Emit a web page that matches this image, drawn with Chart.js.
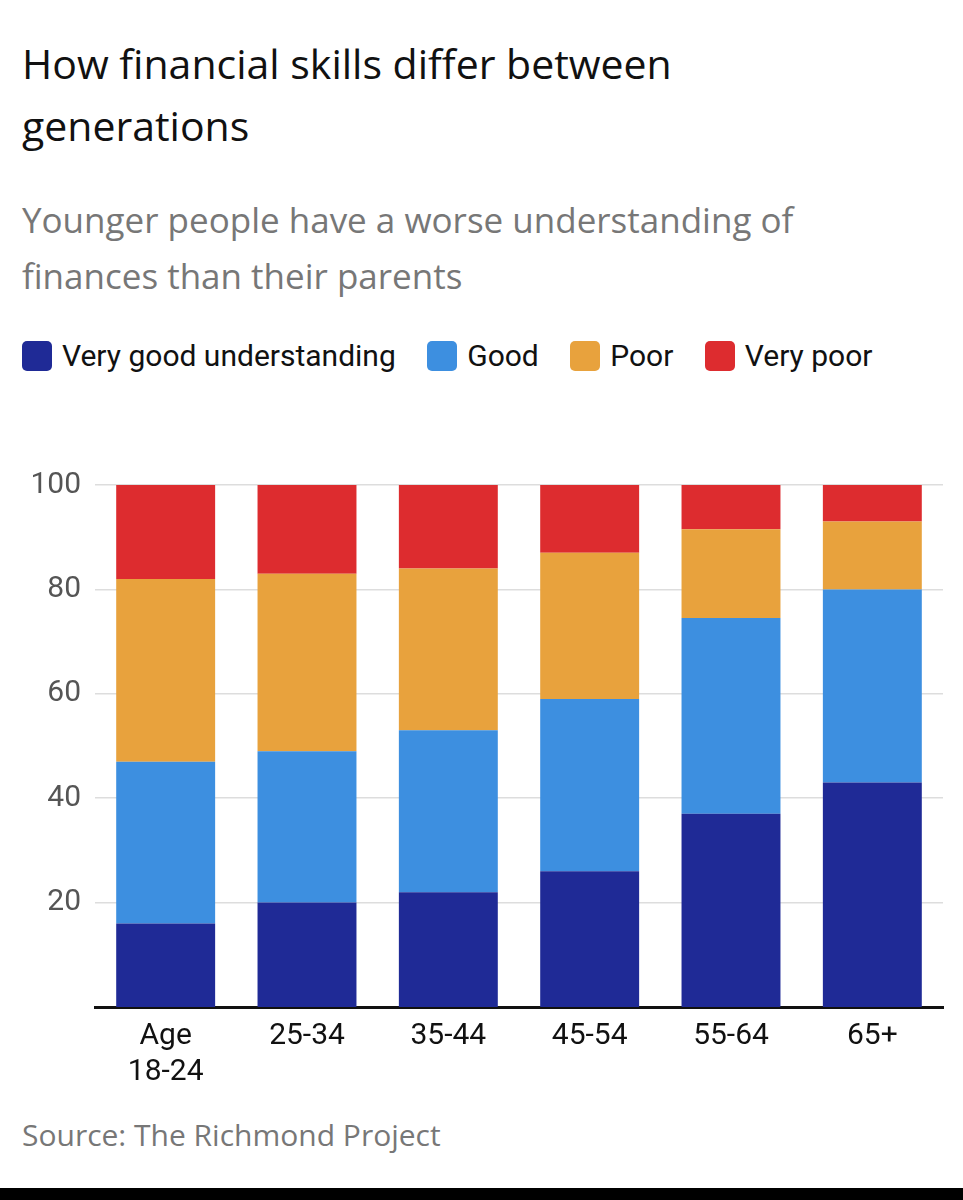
<!DOCTYPE html>
<html lang="en">
<head>
  <meta charset="UTF-8" />
  <title>How financial skills differ between generations</title>
  <script src="https://cdn.jsdelivr.net/npm/chart.js"></script>
  <style>
    body { margin: 0; background: #fff; width: 963px; height: 1200px; position: relative; overflow: hidden; font-family: "Open Sans", "Noto Sans", sans-serif; }
    h1 { position: absolute; left: 22px; top: 32px; margin: 0; font-weight: 400; font-size: 41px; line-height: 62px; color: #111; width: 800px; }
    h2 { position: absolute; left: 22px; top: 192px; margin: 0; font-weight: 400; font-size: 35px; line-height: 56px; color: #777; width: 900px; }
    #legend { position: absolute; left: 22px; top: 328px; width: 880px; font-family: Roboto, sans-serif; font-size: 30px; line-height: 56px; color: #111; }
    #legend span.sw { display: inline-block; width: 30px; height: 30px; border-radius: 5px; vertical-align: -5px; margin-right: 10px; }
    #legend span.it { margin-right: 24px; }
    #wrap { position: absolute; left: 0; top: 453px; width: 963px; height: 640px; }
    #src { position: absolute; left: 22px; top: 1114px; font-size: 30px; color: #777; }
    #bar { position: absolute; left: 0; top: 1188px; width: 963px; height: 12px; background: #000; }
  </style>
</head>
<body>
  <h1>How financial skills differ between generations</h1>
  <h2>Younger people have a worse understanding of finances than their parents</h2>
  <div id="legend"></div>
  <div id="wrap"><canvas id="grafico"></canvas></div>
  <div id="src">Source: The Richmond Project</div>
  <div id="bar"></div>

  <script>
    const categorias = [['Age', '18-24'], '25-34', '35-44', '45-54', '55-64', '65+'];
    const series = ['Very good understanding', 'Good', 'Poor', 'Very poor'];
    const colores = ['#1f2a96', '#3d8fe0', '#e8a23d', '#dd2c2f'];
    const muyBuena = [16, 20, 22, 26, 37, 43];
    const buena = [31, 29, 31, 33, 37.5, 37];
    const mala = [35, 34, 31, 28, 17, 13];
    const muyMala = [18, 17, 16, 13, 8.5, 7];
    const valores = [muyBuena, buena, mala, muyMala];
    const ticks = [20, 40, 60, 80, 100];

    document.getElementById('legend').innerHTML = series.map((s, i) =>
      '<span class="it"><span class="sw" style="background:' + colores[i] + '"></span>' + s + '</span>'
    ).join(' ');

    const ctx = document.getElementById('grafico').getContext('2d');
    new Chart(ctx, {
      type: 'bar',
      data: {
        labels: categorias,
        datasets: series.map((s, i) => ({
          label: s, data: valores[i], backgroundColor: colores[i],
          categoryPercentage: 0.7, barPercentage: 1
        }))
      },
      options: {
        responsive: true, maintainAspectRatio: false, animation: false,
        layout: { padding: { left: 0, right: 20, top: 20 } },
        plugins: { legend: { display: false }, tooltip: { enabled: false } },
        scales: {
          x: {
            stacked: true,
            grid: { display: false },
            border: { color: '#111', width: 3 },
            ticks: { color: '#111', font: { family: 'Roboto', size: 30 } }
          },
          y: {
            stacked: true, min: 0, max: 100,
            afterBuildTicks: ax => { ax.ticks = ticks.map(v => ({ value: v })); },
            afterFit: ax => { ax.width = 95; },
            grid: { color: '#ddd', lineWidth: 1.5, drawTicks: false },
            border: { display: false },
            ticks: { color: '#555', padding: 14, font: { family: 'Roboto', size: 30 } }
          }
        }
      }
    });
  </script>
</body>
</html>
